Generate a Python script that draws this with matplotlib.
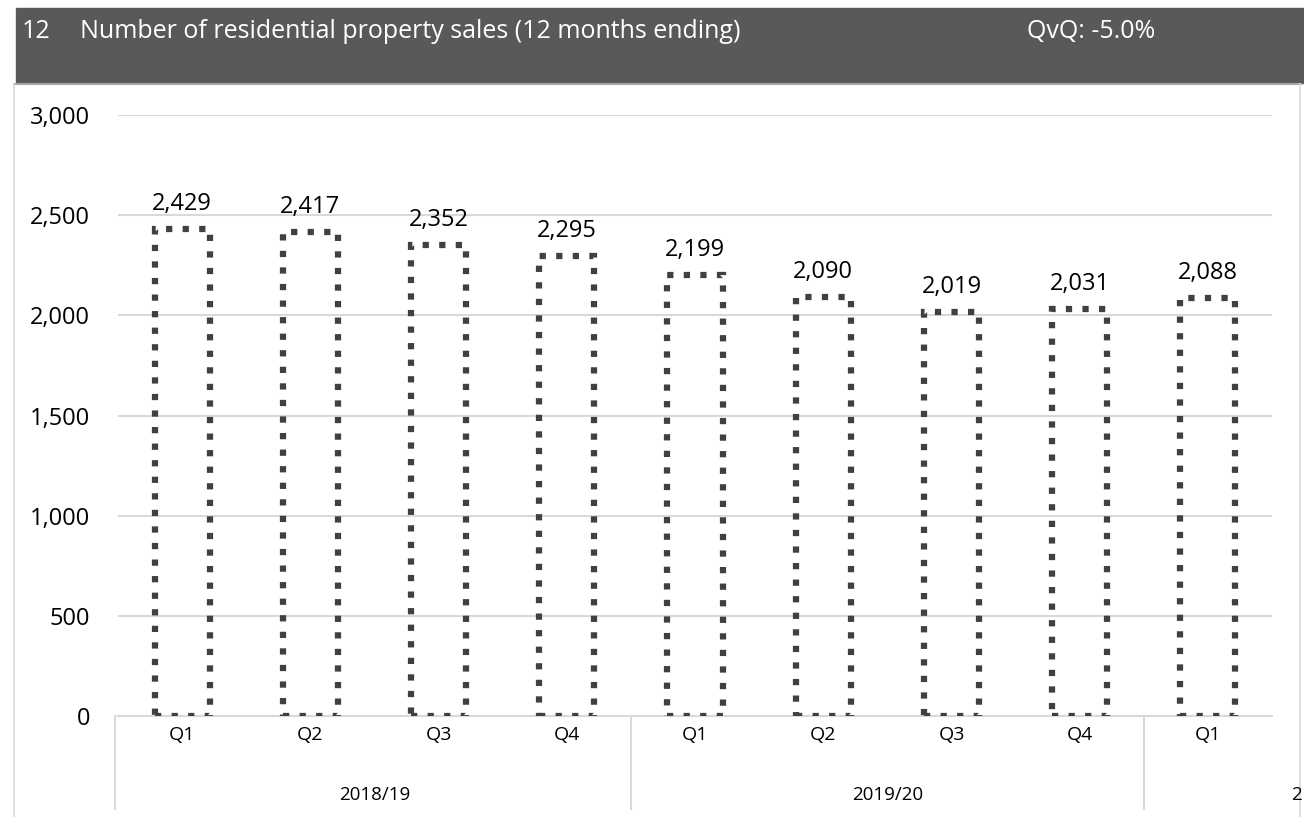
import matplotlib.pyplot as plt
from matplotlib.patches import Rectangle
from matplotlib.lines import Line2D

plt.rcParams['font.family'] = ['Open Sans', 'DejaVu Sans']

quarters = ["Q1", "Q2", "Q3", "Q4", "Q1", "Q2", "Q3", "Q4", "Q1"]
years = ["2018/19", "2019/20"]
sales = [2429, 2417, 2352, 2295, 2199, 2090, 2019, 2031, 2088]
title = "Number of residential property sales (12 months ending)"
change = "QvQ: -5.0%"

W, H = 1304, 817
fig = plt.figure(figsize=(W / 100, H / 100), dpi=100)


def fx(px):
    return px / W


def fy(py):
    return 1 - py / H


# header band and panel border
fig.patches.append(Rectangle((fx(16), fy(83)), fx(W - 16), fy(8) - fy(83),
                             transform=fig.transFigure, color='#595959', zorder=0))
fig.lines.append(Line2D([fx(14), fx(1301)], [fy(84), fy(84)], transform=fig.transFigure,
                        color='#a6a6a6', lw=1.5))
fig.lines.append(Line2D([fx(14), fx(14)], [fy(84), 0], transform=fig.transFigure,
                        color='#d9d9d9', lw=1.2))
fig.lines.append(Line2D([fx(1300), fx(1300)], [fy(84), 0], transform=fig.transFigure,
                        color='#d9d9d9', lw=1.2))

fig.text(fx(22), fy(31), "12", color='white', fontsize=18, va='center')
fig.text(fx(80), fy(31), title, color='white', fontsize=18, va='center')
fig.text(fx(1027), fy(31), change, color='white', fontsize=18, va='center')

ax = fig.add_axes([fx(118), fy(716), fx(1272) - fx(118), fy(115) - fy(716)])
x = list(range(len(sales)))
ax.bar(x, sales, width=0.43, fill=False, edgecolor='#404040', linewidth=4.5,
       linestyle=':', zorder=3)
for xi, v in zip(x, sales):
    ax.text(xi, v + 65, f"{v:,}", ha='center', va='bottom', fontsize=17, color='black')

ax.set_xlim(-0.5, len(sales) - 0.5)
ax.set_ylim(0, 3000)
ax.set_yticks(range(0, 3001, 500))
ax.set_yticklabels([f"{t:,}" for t in range(0, 3001, 500)])
ax.yaxis.grid(True, color='#d9d9d9', lw=1.5)
ax.set_axisbelow(True)
for s in ['top', 'right', 'left']:
    ax.spines[s].set_visible(False)
ax.spines['bottom'].set_color('#d9d9d9')
ax.spines['bottom'].set_linewidth(1.5)
ax.tick_params(axis='y', length=0, labelsize=17, pad=20)
ax.set_xticks(x)
ax.set_xticklabels(quarters)
ax.tick_params(axis='x', length=0, labelsize=14, pad=7)

# group separators and year labels
tr = ax.get_xaxis_transform()
for b in [-0.52, 3.5, 7.5]:
    ax.plot([b, b], [0, -0.155], transform=tr, color='#d9d9d9', lw=1.5, clip_on=False)
ax.text(1.5, -0.131, years[0], transform=tr, ha='center', va='center', fontsize=13.5)
ax.text(5.5, -0.131, years[1], transform=tr, ha='center', va='center', fontsize=13.5)
fig.text(fx(1302), fy(795), "2", ha='right', va='center', fontsize=13.5)

fig.savefig("out.png", dpi=100)
